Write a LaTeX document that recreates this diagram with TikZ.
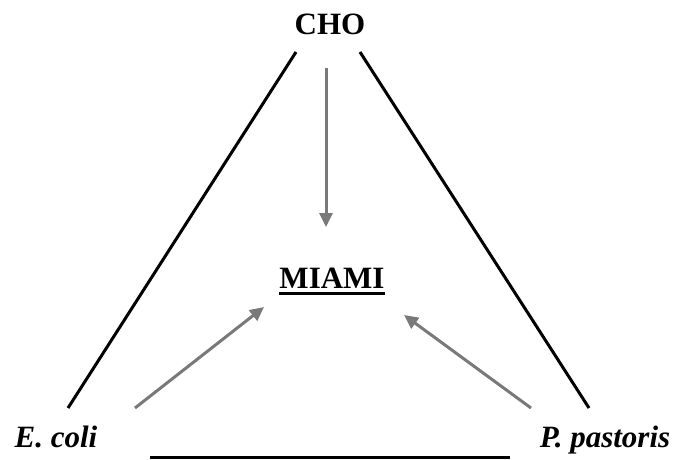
\documentclass[tikz,border=0pt]{standalone}
\usepackage{fontspec}
\setmainfont{Liberation Serif}
\usetikzlibrary{arrows.meta,calc}
\begin{document}
\begin{tikzpicture}[x=1pt,y=-1pt,
  lbl/.style={font=\fontsize{31}{34}\selectfont\bfseries, inner sep=0pt},
  edge/.style={line width=3pt, black},
  garrow/.style={line width=3pt, color=gray!95!black, -{Triangle[length=14pt,width=13pt]}}]
\useasboundingbox (0,0) rectangle (677,460);
\node[lbl, anchor=base] (cho) at (330,35) {CHO};
\node[lbl, anchor=base] (miami) at (332,288) {MIAMI};
\draw[line width=3pt] ($(miami.base west)+(0,5.5)$) -- ($(miami.base east)+(0,5.5)$);
\node[lbl, anchor=base] (ecoli) at (56,447) {\itshape E. coli};
\node[lbl, anchor=base] (pp) at (605,447) {\itshape P. pastoris};
\coordinate (l1) at (68,408);
\coordinate (l2) at (296,52);
\coordinate (r1) at (360,52);
\coordinate (r2) at (589,408);
\coordinate (b1) at (150,457);
\coordinate (b2) at (510,457);
\draw[edge] (l1) -- (l2);
\draw[edge] (r1) -- (r2);
\draw[edge] (b1) -- (b2);
\coordinate (ds) at (326,68);
\coordinate (de) at (326,227);
\coordinate (ls) at (135,408);
\coordinate (le) at (264,307);
\coordinate (rs) at (531,408);
\coordinate (re) at (404,315);
\draw[garrow] (ds) -- (de);
\draw[garrow] (ls) -- (le);
\draw[garrow] (rs) -- (re);
\end{tikzpicture}
\end{document}
